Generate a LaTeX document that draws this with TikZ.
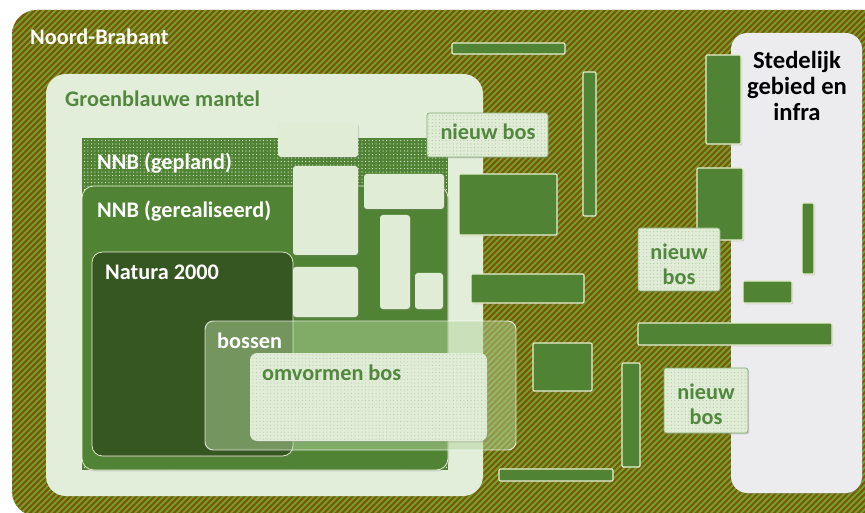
\documentclass[tikz,border=0pt]{standalone}
\usepackage{fontspec}
\setmainfont{Carlito}
\usetikzlibrary{patterns,shadows}
\definecolor{hatchbrown}{RGB}{125,88,8}
\definecolor{hatchgreen}{RGB}{112,166,50}
\definecolor{mantelgreen}{RGB}{226,238,218}
\definecolor{labelgreen}{RGB}{82,135,62}
\definecolor{nnbgreen}{RGB}{80,132,52}
\definecolor{naturagreen}{RGB}{54,86,34}
\definecolor{palegreen}{RGB}{224,236,214}
\definecolor{edgecream}{RGB}{232,240,205}
\definecolor{urbangrey}{RGB}{236,236,239}
\definecolor{bossengreen}{RGB}{178,212,155}

\begin{document}
\begin{tikzpicture}[x=0.03cm, y=-0.03cm,
  every node/.style={font=\bfseries\fontsize{19}{21.5}\selectfont, inner sep=0pt},
  softshadow/.style={drop shadow={opacity=0.3, shadow xshift=1pt, shadow yshift=-1.2pt}},
  lightbox/.style={fill=palegreen, rounded corners=2.5pt, softshadow},
  darkbox/.style={fill=nnbgreen, draw=edgecream, line width=0.9pt, rounded corners=1pt, softshadow},
  newforest/.style={fill=palegreen, draw=nnbgreen!70, line width=0.6pt, rounded corners=2pt, softshadow,
    postaction={pattern=dots, pattern color=nnbgreen!45}},
  regionlabel/.style={anchor=base west, text=white},
  forestlabel/.style={text=labelgreen, align=center}]
\useasboundingbox (0,0) rectangle (865,513);
\clip (0,0) rectangle (865,513);

% Noord-Brabant, hatched
\begin{scope}
  \clip[rounded corners=21pt] (12,10) rectangle (890,516);
  \fill[hatchbrown] (0,0) rectangle (865,513);
  \foreach \i in {-520,-514,...,865}
    \draw[hatchgreen, line width=1.5pt] (\i,520) -- ++(520,-520);
\end{scope}

% Stedelijk gebied en infra
\fill[urbangrey, rounded corners=14pt, softshadow] (731,33) rectangle (862,493);

% nested regions
\fill[mantelgreen, rounded corners=17pt] (46,74) rectangle (483,496);
\path[fill=nnbgreen, postaction={pattern=dots, pattern color=palegreen!70}] (82,138) rectangle (448,470);
\filldraw[fill=nnbgreen, draw=edgecream!80, line width=0.6pt, rounded corners=10pt, softshadow] (82,186) rectangle (448,470);
\filldraw[fill=naturagreen, draw=edgecream!80, line width=0.6pt, rounded corners=9pt, softshadow] (92,252) rectangle (293,456);

% light blocks inside NNB
\fill[lightbox] (278,123) rectangle (358,157);
\fill[lightbox] (293,166) rectangle (358,255);
\fill[lightbox] (293,267) rectangle (358,317);
\fill[lightbox] (364,174) rectangle (444,209);
\fill[lightbox] (380,215) rectangle (410,309);
\fill[lightbox] (415,273) rectangle (443,309);

% bossen and omvormen bos
\filldraw[fill=bossengreen, fill opacity=0.5, draw=white, draw opacity=0.8, line width=0.8pt, rounded corners=7pt] (205,321) rectangle (516,450);
\path[fill=palegreen, rounded corners=6pt, softshadow, postaction={pattern=dots, pattern color=nnbgreen!40}] (250,353) rectangle (487,441);

% scattered dark green plots
\filldraw[darkbox] (452,43) rectangle (565,54);
\filldraw[darkbox] (583,72) rectangle (596,216);
\filldraw[darkbox] (459,174) rectangle (557,235);
\filldraw[darkbox] (706,55) rectangle (741,144);
\filldraw[darkbox] (697,168) rectangle (743,240);
\filldraw[darkbox] (802,203) rectangle (814,274);
\filldraw[darkbox] (471,274) rectangle (584,303);
\filldraw[darkbox] (743,281) rectangle (792,303);
\filldraw[darkbox] (638,323) rectangle (832,345);
\filldraw[darkbox] (533,343) rectangle (592,391);
\filldraw[darkbox] (622,363) rectangle (640,467);
\filldraw[darkbox] (499,469) rectangle (613,481);

% nieuw bos
\filldraw[newforest] (427,113) rectangle (548,157);
\filldraw[newforest] (638,228) rectangle (720,291);
\filldraw[newforest] (664,368) rectangle (748,433);

% labels
\node[regionlabel] (brabant) at (30,45) {Noord-Brabant};
\node[regionlabel, text=labelgreen] (mantel) at (65,107) {Groenblauwe mantel};
\node[regionlabel] (gepland) at (97,170) {NNB (gepland)};
\node[regionlabel] (gerealiseerd) at (97,218) {NNB (gerealiseerd)};
\node[regionlabel] (natura) at (105,280) {Natura 2000};
\node[regionlabel] (bossen) at (217,348) {bossen};
\node[regionlabel, text=labelgreen] (omvormen) at (262,380) {omvormen bos};
\node[forestlabel, anchor=base] (bosNoord) at (488,140) {nieuw bos};
\node[forestlabel] (bosMidden) at (679,264) {nieuw\\bos};
\node[forestlabel] (bosZuid) at (706,404) {nieuw\\bos};
\node[align=center, text=black, font=\bfseries\fontsize{21}{22.5}\selectfont] (stedelijk) at (797,86) {Stedelijk\\gebied en\\infra};
\end{tikzpicture}
\end{document}
